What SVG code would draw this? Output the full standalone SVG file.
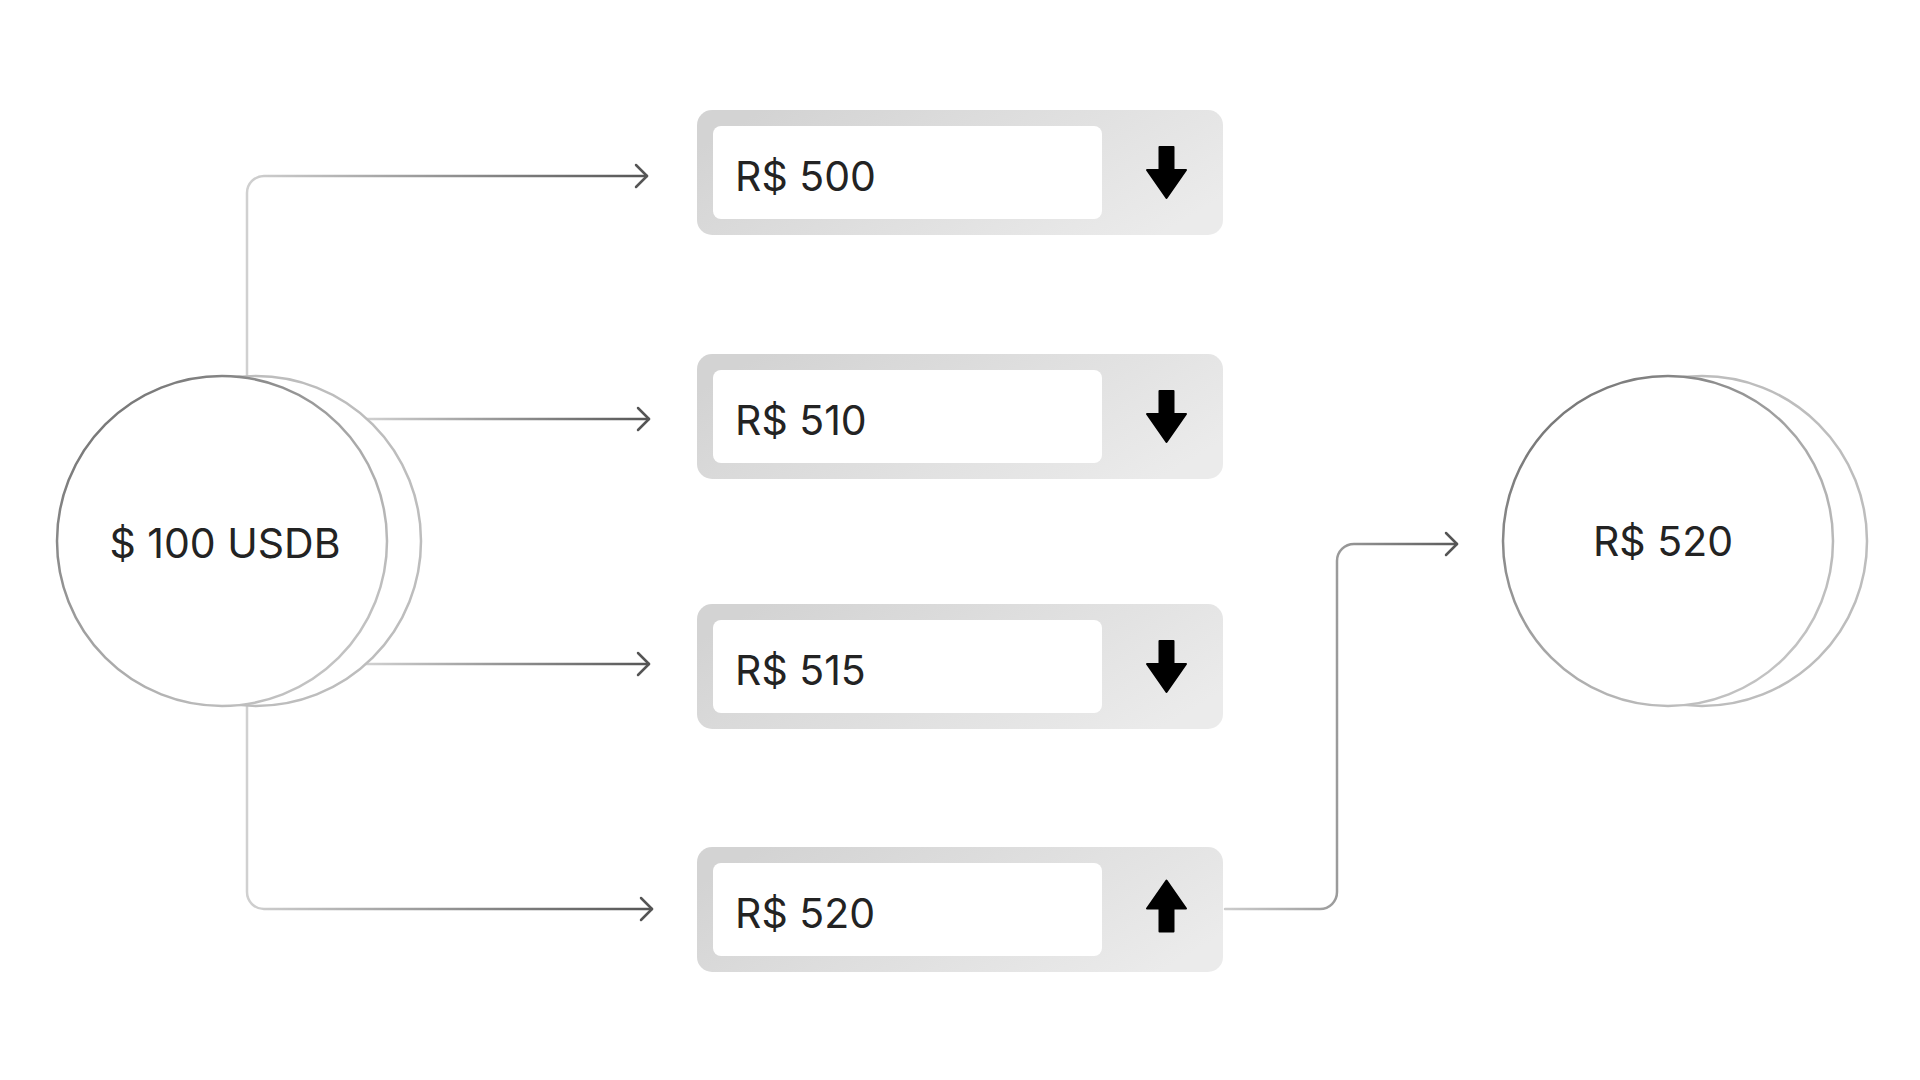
<svg xmlns="http://www.w3.org/2000/svg" width="1920" height="1080" viewBox="0 0 1920 1080">
  <style>
    .lbl { font-family: Inter, "Liberation Sans", sans-serif; font-size: 41px; fill: #232323; }
    .conn { fill: none; stroke-width: 2.5; stroke-linecap: round; stroke-linejoin: round; }
    .frame { fill: url(#boxGrad); }
    .field { fill: #ffffff; }
    .coinBack { fill: #ffffff; stroke: #bdbdbd; stroke-width: 2.5; }
    .coinFront { fill: #ffffff; stroke: url(#coinGrad); stroke-width: 2.5; }
  </style>
  <defs>
    <linearGradient id="boxGrad" x1="0" y1="0.3" x2="1" y2="0.7">
      <stop offset="0" stop-color="#d3d3d3"/>
      <stop offset="1" stop-color="#ebebeb"/>
    </linearGradient>
    <linearGradient id="coinGrad" x1="0.15" y1="0.1" x2="0.85" y2="0.9">
      <stop offset="0" stop-color="#777777"/>
      <stop offset="0.55" stop-color="#aaaaaa"/>
      <stop offset="1" stop-color="#c4c4c4"/>
    </linearGradient>
    <linearGradient id="gTop" gradientUnits="userSpaceOnUse" x1="247" y1="0" x2="647" y2="0">
      <stop offset="0" stop-color="#d0d0d0"/>
      <stop offset="1" stop-color="#555555"/>
    </linearGradient>
    <linearGradient id="gMid" gradientUnits="userSpaceOnUse" x1="367" y1="0" x2="649" y2="0">
      <stop offset="0" stop-color="#d0d0d0"/>
      <stop offset="1" stop-color="#555555"/>
    </linearGradient>
    <linearGradient id="gBot" gradientUnits="userSpaceOnUse" x1="247" y1="0" x2="652" y2="0">
      <stop offset="0" stop-color="#d0d0d0"/>
      <stop offset="1" stop-color="#555555"/>
    </linearGradient>
    <linearGradient id="gRight" gradientUnits="userSpaceOnUse" x1="1225" y1="0" x2="1457" y2="0">
      <stop offset="0" stop-color="#cccccc"/>
      <stop offset="0.5" stop-color="#999999"/>
      <stop offset="1" stop-color="#5a5a5a"/>
    </linearGradient>
    <marker id="chev" markerUnits="userSpaceOnUse" markerWidth="30" markerHeight="30" viewBox="-15 -15 30 30" refX="0" refY="0" orient="auto">
      <path d="M-11,-11 L0,0 L-11,11" fill="none" stroke="#555555" stroke-width="2.5" stroke-linecap="round" stroke-linejoin="round"/>
    </marker>
    <path id="arrowDown" d="M-7,-25.5 h14 v23 h12.5 L0,25.5 L-19.5,-2.5 h12.5 z" fill="#000" stroke="#000" stroke-width="2" stroke-linejoin="round"/>
  </defs>

  <g id="connectors">
    <path class="conn" stroke="url(#gTop)" d="M247,376 V193 A17,17 0 0 1 264,176 H647" marker-end="url(#chev)"/>
    <path class="conn" stroke="url(#gMid)" d="M367,419 H649" marker-end="url(#chev)"/>
    <path class="conn" stroke="url(#gMid)" d="M366,664 H649" marker-end="url(#chev)"/>
    <path class="conn" stroke="url(#gBot)" d="M247,706 V892 A17,17 0 0 0 264,909 H652" marker-end="url(#chev)"/>
    <path class="conn" stroke="url(#gRight)" d="M1225,909 H1320 A17,17 0 0 0 1337,892 V561 A17,17 0 0 1 1354,544 H1457" marker-end="url(#chev)"/>
  </g>

  <g id="source-coin">
    <circle class="coinBack" cx="256" cy="541" r="165"/>
    <circle class="coinFront" cx="222" cy="541" r="165"/>
    <text class="lbl" x="225" y="558" text-anchor="middle">$ 100 USDB</text>
  </g>

  <g id="quote-500">
    <rect class="frame" x="697" y="110" width="526" height="125" rx="15"/>
    <rect class="field" x="713" y="126" width="389" height="93" rx="8"/>
    <text class="lbl" x="735" y="191">R$ 500</text>
    <use href="#arrowDown" x="1166.5" y="172.5"/>
  </g>

  <g id="quote-510">
    <rect class="frame" x="697" y="354" width="526" height="125" rx="15"/>
    <rect class="field" x="713" y="370" width="389" height="93" rx="8"/>
    <text class="lbl" x="735" y="435">R$ 510</text>
    <use href="#arrowDown" x="1166.5" y="416.5"/>
  </g>

  <g id="quote-515">
    <rect class="frame" x="697" y="604" width="526" height="125" rx="15"/>
    <rect class="field" x="713" y="620" width="389" height="93" rx="8"/>
    <text class="lbl" x="735" y="685">R$ 515</text>
    <use href="#arrowDown" x="1166.5" y="666.5"/>
  </g>

  <g id="quote-520">
    <rect class="frame" x="697" y="847" width="526" height="125" rx="15"/>
    <rect class="field" x="713" y="863" width="389" height="93" rx="8"/>
    <text class="lbl" x="735" y="928">R$ 520</text>
    <use href="#arrowDown" transform="translate(1166.5,906) scale(1,-1)"/>
  </g>

  <g id="result-coin">
    <circle class="coinBack" cx="1702" cy="541" r="165"/>
    <circle class="coinFront" cx="1668" cy="541" r="165"/>
    <text class="lbl" x="1663" y="556" text-anchor="middle">R$ 520</text>
  </g>
</svg>
